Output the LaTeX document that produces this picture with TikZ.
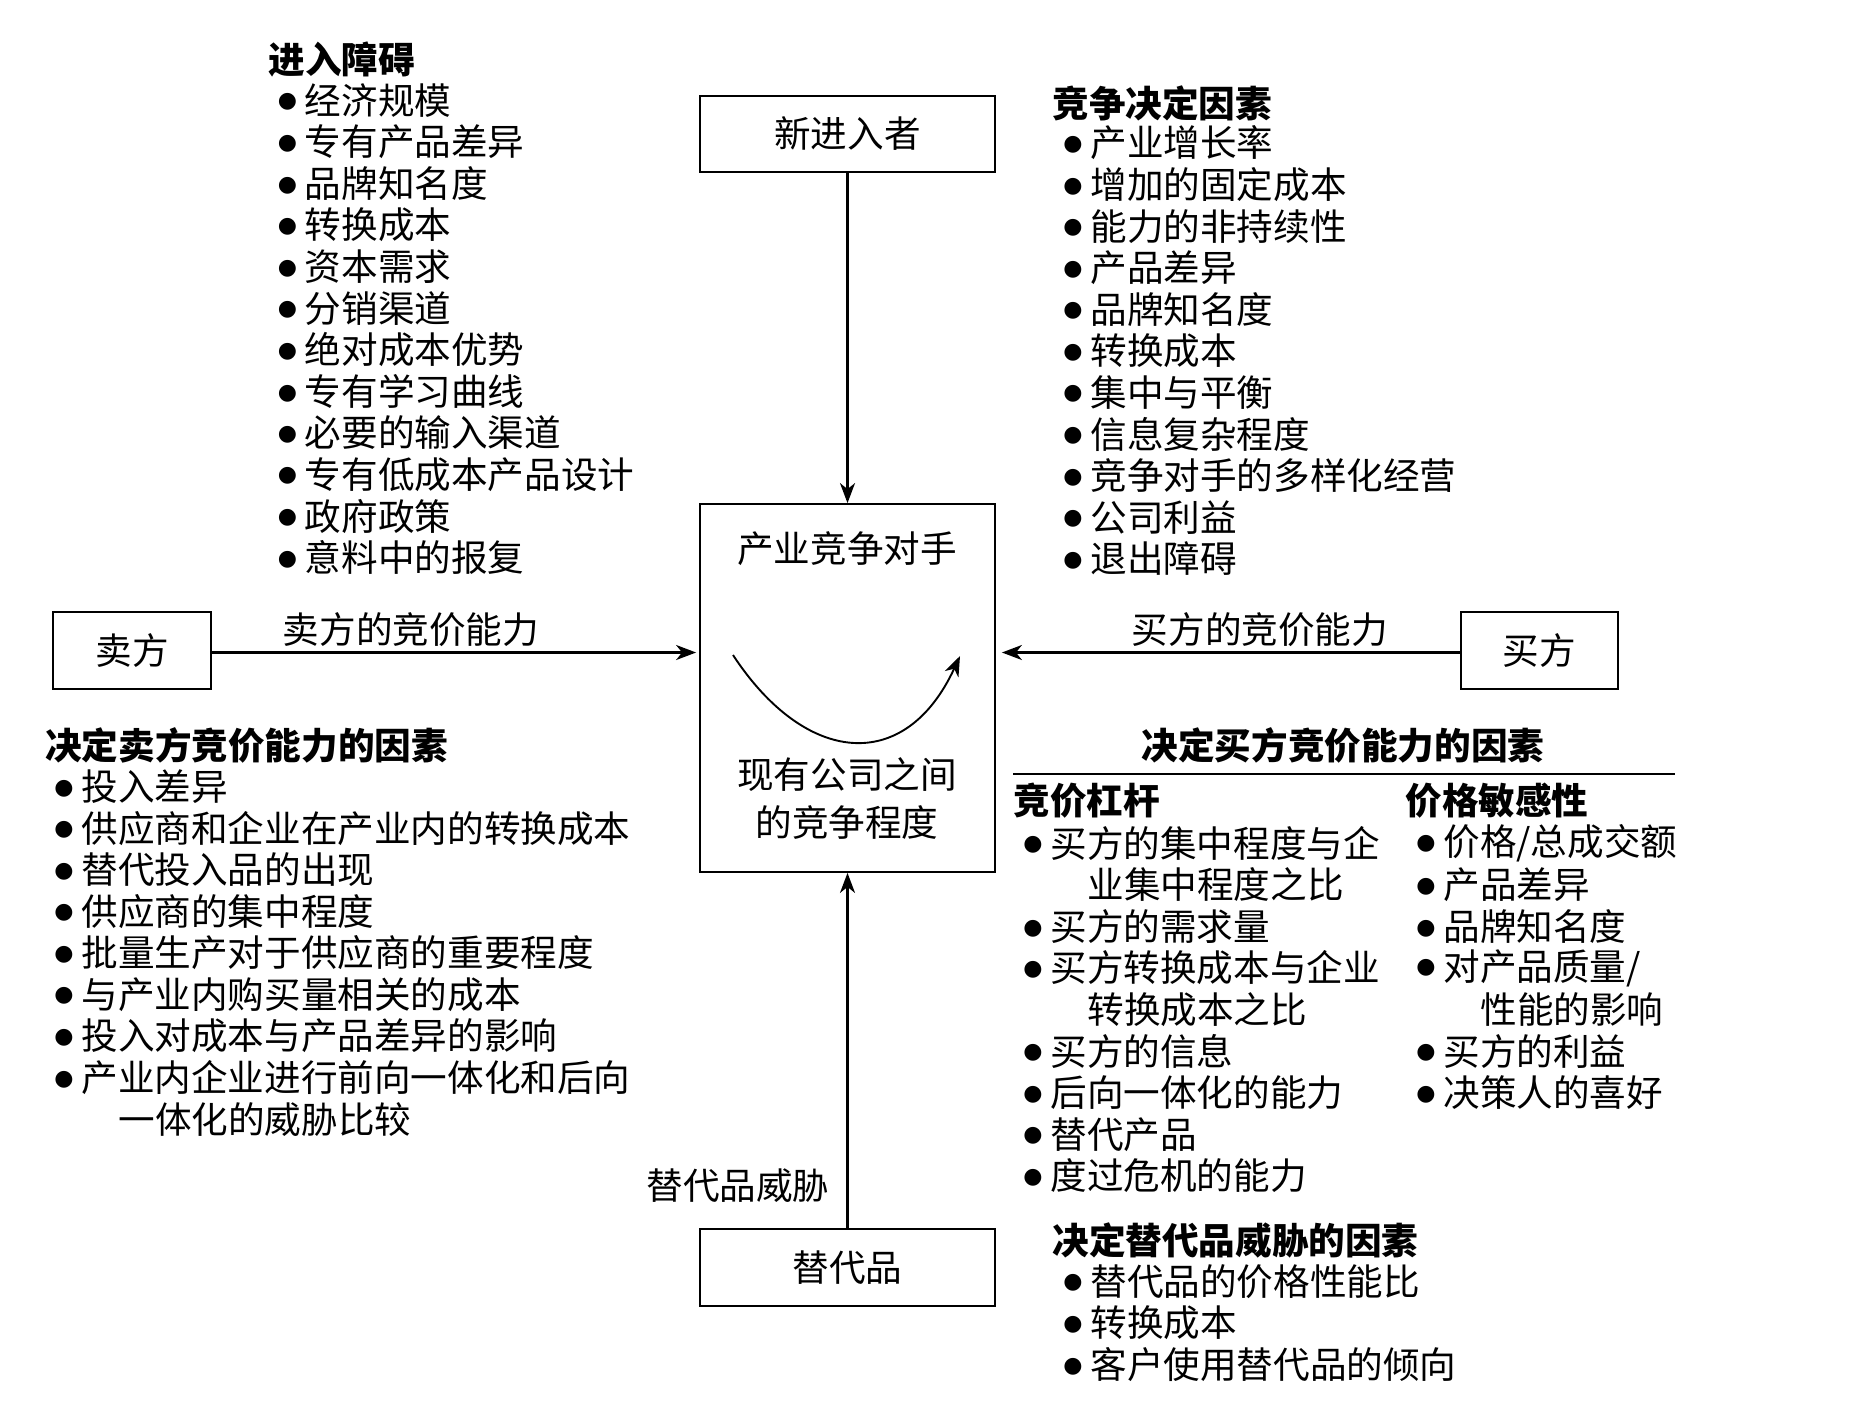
\documentclass[tikz,border=0pt]{standalone}
\usepackage{fontspec}
\setmainfont{Noto Sans CJK SC}
\newfontfamily\dejavu{DejaVu Sans}
\usetikzlibrary{arrows.meta}
\newcommand{\bodyf}{\fontsize{18.3}{22}\selectfont}
\newcommand{\headf}{\bfseries\fontsize{18.3}{22}\selectfont}
\newcommand{\bul}{\makebox[13.5pt][l]{\raisebox{3.2pt}{\dejavu\fontsize{11}{11}\selectfont ●}}}
\tikzset{
  box/.style={draw, line width=0.9pt, inner sep=0pt, font=\bodyf},
  it/.style={anchor=west, inner sep=0pt, font=\bodyf},
  hd/.style={anchor=west, inner sep=0pt, font=\headf},
  lbl/.style={inner sep=0pt, font=\bodyf},
  arr/.style={line width=1.05pt, -{Stealth[length=10pt,width=7.5pt,inset=3pt]}}
}
\begin{document}
\begin{tikzpicture}[x=0.5pt,y=-0.5pt]
\useasboundingbox (0,0) rectangle (1852,1409);
% boxes
\node[box, minimum width=147.5pt, minimum height=38pt] (new) at (847.5,134) {新进入者};
\node[box, minimum width=147.5pt, minimum height=184pt] (ctr) at (847.5,688) {};
\node[box, minimum width=147.5pt, minimum height=38.5pt] (sub) at (847.5,1267.5) {替代品};
\node[box, minimum width=79pt, minimum height=38.5pt] (sel) at (132,650.5) {卖方};
\node[box, minimum width=78.5pt, minimum height=38.5pt] (buy) at (1539.5,650.5) {买方};
% center texts
\node[lbl] (c1) at (847,549) {产业竞争对手};
\node[lbl] (c2) at (847,775) {现有公司之间};
\node[lbl] (c3) at (847,822) {的竞争程度};
\coordinate (cs) at (733,655);
\coordinate (ce) at (960,656);
\draw[arr, line width=0.95pt] (cs) .. controls (805,765) and (905,775) .. (ce);
% arrows
\draw[arr] (new.south) -- (ctr.north);
\draw[arr] (sub.north) -- (ctr.south);
\draw[arr, shorten >=1.5pt] ([yshift=-1pt]sel.east) -- ([yshift=-1pt]sel.east -| ctr.west);
\draw[arr, shorten >=3pt] ([yshift=-1pt]buy.west) -- ([yshift=-1pt]buy.west -| ctr.east);
\node[lbl] (l1) at (411,630) {卖方的竞价能力};
\node[lbl] (l2) at (1260,630) {买方的竞价能力};
\node[lbl] (l3) at (738,1186) {替代品威胁};
% top-left list
\node[hd] (h1) at (268,59) {进入障碍};
\foreach \t [count=\i from 0] in {经济规模,专有产品差异,品牌知名度,转换成本,资本需求,分销渠道,绝对成本优势,专有学习曲线,必要的输入渠道,专有低成本产品设计,政府政策,意料中的报复}
  \node[it] (tl\i) at (277.5,100.4+\i*41.57) {\bul\t};
% top-right list
\node[hd] (h2) at (1052,103) {竞争决定因素};
\foreach \t [count=\i from 0] in {产业增长率,增加的固定成本,能力的非持续性,产品差异,品牌知名度,转换成本,集中与平衡,信息复杂程度,竞争对手的多样化经营,公司利益,退出障碍}
  \node[it] (tr\i) at (1063,143+\i*41.57) {\bul\t};
% bottom-left list
\node[hd] (h3) at (45,745) {决定卖方竞价能力的因素};
\foreach \t [count=\i from 0] in {投入差异,供应商和企业在产业内的转换成本,替代投入品的出现,供应商的集中程度,批量生产对于供应商的重要程度,与产业内购买量相关的成本,投入对成本与产品差异的影响,产业内企业进行前向一体化和后向}
  \node[it] (bl\i) at (54,786.6+\i*41.57) {\bul\t};
\node[it] (bl8) at (118,786.6+8*41.57) {一体化的威胁比较};
% buyer factors
\node[lbl, font=\headf] (h4) at (1343,745) {决定买方竞价能力的因素};
\coordinate (hl1) at (1013,774);
\coordinate (hl2) at (1675,774);
\draw[line width=0.9pt] (hl1) -- (hl2);
\node[hd] (h5) at (1013,801) {竞价杠杆};
\node[it] (ba0) at (1023,843.3) {\bul 买方的集中程度与企};
\node[it] (ba1) at (1087,843.3+41.57) {业集中程度之比};
\node[it] (ba2) at (1023,843.3+2*41.57) {\bul 买方的需求量};
\node[it] (ba3) at (1023,843.3+3*41.57) {\bul 买方转换成本与企业};
\node[it] (ba4) at (1087,843.3+4*41.57) {转换成本之比};
\node[it] (ba5) at (1023,843.3+5*41.57) {\bul 买方的信息};
\node[it] (ba6) at (1023,843.3+6*41.57) {\bul 后向一体化的能力};
\node[it] (ba7) at (1023,843.3+7*41.57) {\bul 替代产品};
\node[it] (ba8) at (1023,843.3+8*41.57) {\bul 度过危机的能力};
\node[hd] (h6) at (1405,801) {价格敏感性};
\node[it] (bb0) at (1416,843.3) {\bul 价格/总成交额};
\node[it] (bb1) at (1416,843.3+41.57) {\bul 产品差异};
\node[it] (bb2) at (1416,843.3+2*41.57) {\bul 品牌知名度};
\node[it] (bb3) at (1416,843.3+3*41.57) {\bul 对产品质量/};
\node[it] (bb4) at (1480,843.3+4*41.57) {性能的影响};
\node[it] (bb5) at (1416,843.3+5*41.57) {\bul 买方的利益};
\node[it] (bb6) at (1416,843.3+6*41.57) {\bul 决策人的喜好};
% substitute factors
\node[hd] (h7) at (1052,1240) {决定替代品威胁的因素};
\foreach \t [count=\i from 0] in {替代品的价格性能比,转换成本,客户使用替代品的倾向}
  \node[it] (sf\i) at (1063,1281.5+\i*41.57) {\bul\t};
\end{tikzpicture}
\end{document}
